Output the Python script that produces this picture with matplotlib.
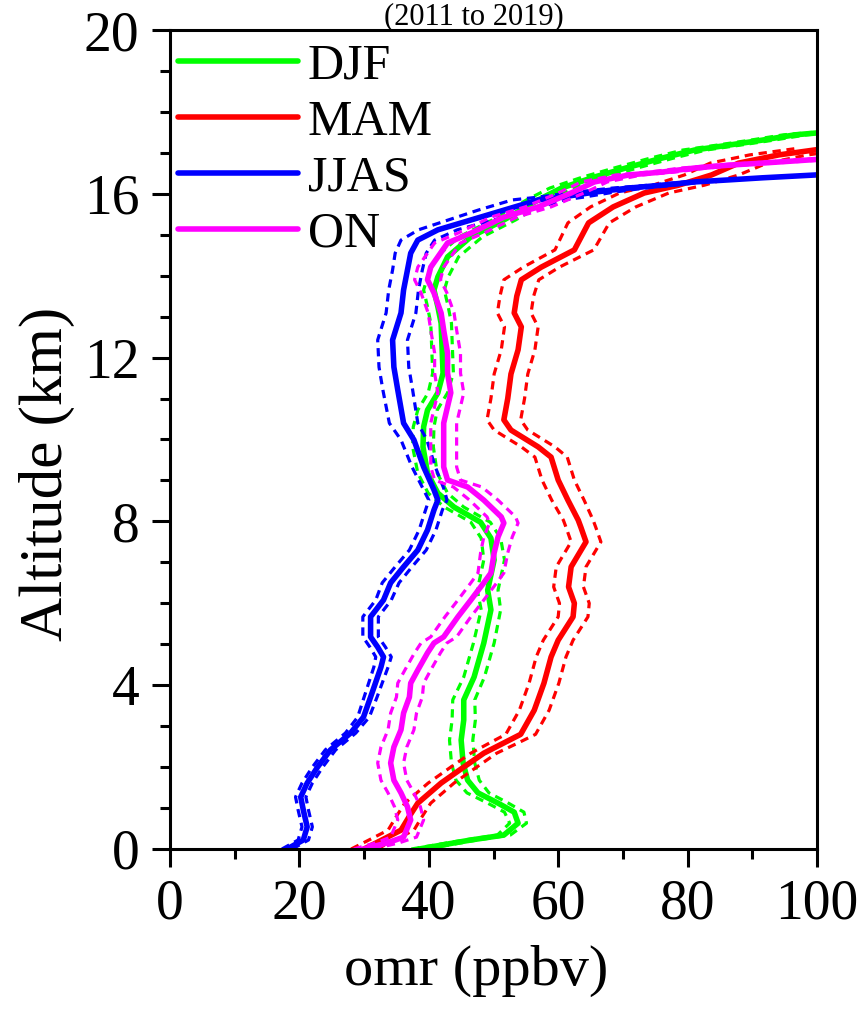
import numpy as np
import matplotlib
matplotlib.use('Agg')
import matplotlib.pyplot as plt
from matplotlib.ticker import MultipleLocator

# DJF profile (km, ppbv, std)
djf_alt = [0.0, 0.22, 0.34, 0.63, 0.90, 1.12, 1.37, 1.68, 2.10, 2.66, 3.15, 3.64, 4.20, 5.03, 5.84,
           6.32, 7.06, 7.59, 7.98, 8.35, 8.69, 9.18, 9.82, 10.31, 10.72, 11.14, 11.62, 12.43, 12.84, 13.24,
           13.65, 13.97, 14.46, 14.95, 15.36, 15.85, 16.14, 16.41, 16.65, 16.87, 17.07, 17.19, 17.31, 17.44, 17.50]
djf_omr = [38.5, 46.5, 51.6, 53.8, 53.2, 50.7, 47.6, 46.0, 45.3, 45.0, 45.4, 45.4, 47.0, 48.5, 49.6,
           49.1, 50.1, 49.6, 48.0, 43.9, 41.4, 39.8, 39.1, 39.2, 39.8, 41.4, 42.2, 42.0, 41.9, 41.4,
           40.8, 41.4, 42.9, 46.5, 51.6, 56.9, 60.5, 65.6, 70.9, 76.0, 81.1, 86.4, 91.5, 96.6, 101.0]
djf_std = [1.2, 1.0, 1.0, 1.3, 1.5, 1.6, 1.7, 1.8, 1.8, 1.8, 1.8, 1.7, 1.6, 1.6, 1.5,
           1.6, 1.6, 1.5, 1.5, 1.5, 1.5, 1.5, 1.6, 1.6, 1.5, 1.5, 1.6, 1.6, 1.6, 1.6,
           1.6, 1.6, 1.7, 1.8, 1.8, 1.8, 1.8, 1.8, 1.8, 1.8, 1.8, 1.8, 1.8, 1.8, 1.8]

# MAM
mam_alt = [0.0, 0.2, 0.46, 0.8, 1.12, 1.61, 2.0, 2.34, 2.59, 2.8, 3.39, 4.05, 4.69, 5.10, 5.67,
           6.0, 6.40, 6.89, 7.5, 7.86, 8.03, 8.52, 9.01, 9.57, 9.82, 10.23, 10.48, 11.0, 11.6, 12.19,
           12.75, 13.09, 13.5, 13.9, 14.21, 14.63, 15.29, 15.68, 16.02, 16.21, 16.46, 16.75, 16.95, 17.1]
mam_omr = [30.0, 32.5, 35.7, 37.0, 38.3, 41.9, 45.4, 48.5, 51.6, 54.2, 56.3, 57.8, 58.9, 60.0, 62.3,
           62.5, 61.6, 62.0, 64.3, 63.5, 63.1, 61.5, 60.0, 58.9, 56.9, 52.7, 51.6, 52.2, 52.7, 53.8,
           54.3, 53.2, 53.6, 54.3, 57.4, 62.5, 64.7, 68.5, 73.3, 78.6, 83.7, 87.9, 94.1, 101.0]
mam_std = [2.0, 2.0, 2.0, 2.0, 2.0, 2.0, 2.0, 2.0, 2.2, 2.3, 2.3, 2.3, 2.3, 2.3, 2.3,
           2.3, 2.3, 2.3, 2.3, 2.3, 2.3, 2.5, 2.5, 2.5, 2.6, 2.6, 2.6, 2.6, 2.6, 2.6,
           2.6, 2.6, 2.6, 2.7, 2.8, 3.0, 3.2, 3.5, 3.8, 4.0, 4.2, 4.4, 4.5, 4.5]

# JJAS
jjas_alt = [0.0, 0.22, 0.54, 0.95, 1.27, 1.61, 2.0, 2.42, 2.83, 3.22, 3.71, 4.44, 4.69, 4.93, 5.18,
            5.67, 6.08, 6.50, 6.89, 7.30, 7.79, 8.28, 8.52, 8.77, 9.33, 9.99, 10.40, 11.21, 11.77, 12.43,
            13.09, 13.65, 14.14, 14.55, 14.87, 15.12, 15.36, 15.60, 15.85, 15.92, 16.04, 16.14, 16.21, 16.29, 16.34,
            16.39, 16.47]
jjas_omr = [18.1, 20.6, 21.2, 20.6, 20.2, 21.2, 22.8, 24.8, 27.9, 29.9, 31.0, 32.6, 33.0, 32.1, 31.0,
            31.0, 33.0, 34.1, 36.1, 38.3, 39.8, 40.8, 41.4, 40.8, 39.2, 37.7, 36.1, 35.2, 34.6, 34.4,
            35.7, 36.1, 36.7, 37.2, 38.3, 41.4, 46.5, 51.6, 56.9, 60.5, 65.6, 70.9, 76.0, 81.1, 86.4,
            91.5, 101.0]
jjas_std = [0.8, 0.8, 0.8, 0.8, 0.8, 0.8, 0.8, 0.8, 0.8, 0.9, 1.0, 1.1, 1.2, 1.2, 1.2,
            1.2, 1.2, 1.3, 1.3, 1.3, 1.3, 1.3, 1.4, 1.6, 1.8, 2.0, 2.2, 2.3, 2.3, 2.3,
            2.3, 2.3, 2.3, 2.4, 2.6, 3.0, 3.5, 4.0, 4.0, 3.5, 3.0, 2.5, 2.0, 1.5, 1.0,
            1.0, 1.0]

# ON
on_alt = [0.0, 0.15, 0.29, 0.71, 1.03, 1.37, 1.68, 2.10, 2.49, 2.91, 3.32, 3.71, 4.05, 4.37, 4.79,
          5.03, 5.18, 5.67, 6.08, 6.50, 6.74, 7.23, 7.62, 7.96, 8.11, 8.52, 8.84, 9.01, 9.33, 9.74,
          10.40, 11.14, 11.62, 12.11, 12.67, 13.09, 13.58, 13.90, 14.21, 14.80, 15.04, 15.43, 15.68, 16.02, 16.29,
          16.46, 16.53, 16.63, 16.70, 16.75, 16.85]
on_omr = [29.9, 33.6, 36.1, 37.2, 36.7, 35.7, 34.6, 34.1, 34.6, 35.7, 36.1, 37.0, 37.2, 38.3, 39.8,
          40.8, 42.3, 44.5, 46.5, 48.5, 49.6, 50.1, 50.7, 51.6, 51.2, 48.5, 46.0, 42.9, 42.3, 42.3,
          42.3, 43.4, 42.9, 42.9, 42.3, 41.9, 40.8, 39.8, 40.3, 42.9, 46.5, 51.6, 56.9, 62.0, 65.6,
          70.9, 76.0, 81.1, 86.4, 91.5, 101.0]
on_std = [1.5, 1.8, 2.0, 2.0, 2.0, 2.0, 2.0, 2.0, 2.0, 2.0, 2.0, 2.0, 2.0, 2.0, 2.0,
          2.0, 2.0, 2.0, 2.0, 2.0, 2.0, 2.1, 2.2, 2.2, 2.2, 2.2, 2.2, 2.0, 2.0, 2.0,
          2.0, 2.0, 2.0, 2.0, 2.0, 2.0, 2.0, 2.0, 2.0, 2.0, 2.0, 2.0, 2.0, 2.0, 2.0,
          2.0, 2.0, 2.0, 2.0, 2.0, 2.0]

seasons = ['DJF', 'MAM', 'JJAS', 'ON']
colors = ['#00ff00', '#ff0000', '#0000ff', '#ff00ff']
profiles = [(djf_alt, djf_omr, djf_std), (mam_alt, mam_omr, mam_std),
            (jjas_alt, jjas_omr, jjas_std), (on_alt, on_omr, on_std)]

plt.rcParams['font.family'] = ['Liberation Serif', 'DejaVu Serif']

fig = plt.figure(figsize=(8.68, 10.17), dpi=100)
ax = fig.add_axes([0.1959, 0.1652, 0.7453, 0.8053])

for name, col, (alt, omr, std) in zip(seasons, colors, profiles):
    alt = np.array(alt)
    omr = np.array(omr)
    std = np.array(std)
    # mean +/- std as dashed, mean as solid
    ax.plot(omr - std, alt, color=col, lw=2.3, ls=(0, (2.6, 1.8)))
    ax.plot(omr + std, alt, color=col, lw=2.3, ls=(0, (2.6, 1.8)))
    ax.plot(omr, alt, color=col, lw=4.0, label=name, solid_capstyle='round')

ax.set_xlim(0, 100)
ax.set_ylim(0, 20)
ax.xaxis.set_major_locator(MultipleLocator(20))
ax.xaxis.set_minor_locator(MultipleLocator(10))
ax.yaxis.set_major_locator(MultipleLocator(4))
ax.yaxis.set_minor_locator(MultipleLocator(1))
ax.tick_params(which='major', direction='out', length=13, width=2.2, labelsize=40, pad=8)
ax.tick_params(which='minor', direction='out', length=7, width=2.2)
ax.tick_params(axis='y', which='major', pad=9)
for s in ax.spines.values():
    s.set_linewidth(2.2)

ax.set_xlabel('omr (ppbv)', fontsize=42)
ax.set_ylabel('Altitude (km)', fontsize=44)
ax.xaxis.set_label_coords(0.473, -0.117)
ax.yaxis.set_label_coords(-0.147, 0.458)

leg = ax.legend(loc='upper left', bbox_to_anchor=(0, 0.993), frameon=False, fontsize=36,
                handlelength=2.4, handletextpad=0.2, labelspacing=0.19,
                borderaxespad=0, borderpad=0.15)
for line in leg.get_lines():
    line.set_linewidth(4.0)

fig.text(0.5455, 1 - 24 / 1017, '(2011 to 2019)', fontsize=22, ha='center', va='baseline')

fig.savefig('out.png', dpi=100)
